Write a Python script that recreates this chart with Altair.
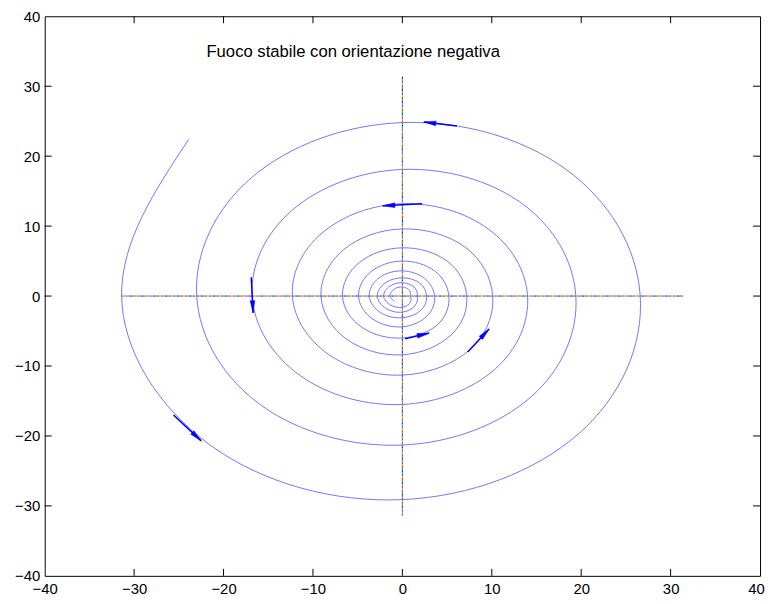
import math
import altair as alt
import pandas as pd

# ---- data ----
spiral_x = [-23.9, -31.4, -21.4, 0.0, 19.7, 26.6, 18.2, 0.0, -16.9,
            -23.0, -15.7, 0.0, 14.4, 19.4, 13.3, 0.0, -12.3,
            -16.8, -11.4, 0.0, 10.4, 14.0, 9.6, 0.0, -9.0,
            -12.3, -8.3, 0.0, 7.6, 10.1, 7.0, 0.0, -6.6,
            -9.1, -6.2, 0.0, 5.5, 7.2, 5.0, 0.0, -4.8,
            -6.7, -4.5, 0.0, 4.0, 5.2, 3.6, 0.0, -3.5,
            -4.9, -3.3, 0.0, 2.8, 3.6, 2.5, 0.0, -2.6,
            -3.7, -2.4, 0.0, 2.05, 2.7, 1.9, 0.0, -1.9,
            -2.8, -1.8, 0.0, 1.4, 1.7, 1.3, 0.0, -1.4,
            -2.1, -1.3, 0.0, 0.9, 0.9, 0.8, 0.0, -0.95,
            -1.4, -0.9]
spiral_y = [22.4, 0.0, -21.4, -29.1, -19.7, 0.0, 18.2, 24.8, 16.9,
            0.0, -15.7, -21.3, -14.4, 0.0, 13.3, 18.1, 12.3,
            0.0, -11.4, -15.5, -10.4, 0.0, 9.6, 13.2, 9.0,
            0.0, -8.3, -11.3, -7.6, 0.0, 7.0, 9.6, 6.6,
            0.0, -6.2, -8.4, -5.5, 0.0, 5.0, 6.9, 4.8,
            0.0, -4.5, -6.0, -4.0, 0.0, 3.6, 5.0, 3.5,
            0.0, -3.3, -4.4, -2.8, 0.0, 2.5, 3.6, 2.6,
            0.0, -2.4, -3.1, -2.05, 0.0, 1.9, 2.6, 1.9,
            0.0, -1.8, -2.3, -1.4, 0.0, 1.3, 1.9, 1.4,
            0.0, -1.3, -1.6, -0.9, 0.0, 0.8, 1.3, 0.95,
            0.0, -0.7]

arrow_tail_x = [6.1, 2.2, -16.9, -25.6, 0.3, 7.3]
arrow_tail_y = [24.3, 13.2, 2.7, -17.0, -6.1, -8.0]
arrow_tip_x = [2.4, -2.2, -16.7, -22.5, 3.0, 9.7]
arrow_tip_y = [24.9, 12.9, -2.4, -20.7, -5.3, -4.7]

axis_line_half = 31.4
tick_values = [-30, -20, -10, 0, 10, 20, 30]
label_values = [-40, -30, -20, -10, 0, 10, 20, 30, 40]
dash_colors = ["#ff0000", "#00b000", "#0000ff", "#00b0b0", "#c000c0", "#b0b000"]
title_text = "Fuoco stabile con orientazione negativa"

W, H = 721, 564
FONT = "Liberation Sans"

xs = alt.Scale(domain=[-40, 40], nice=False, zero=False)
ys = alt.Scale(domain=[-40, 40], nice=False, zero=False)
x_axis = alt.Axis(values=label_values, tickSize=0, labelPadding=6, domain=False,
                  grid=False, title=None, labelFontSize=15, labelFont=FONT,
                  labelColor="black", labelFlush=False,
                  labelOffset={"condition": {"test": "datum.value == 40", "value": -4},
                               "value": 0})
y_axis = alt.Axis(values=label_values, tickSize=0, labelPadding=5, domain=False,
                  grid=False, title=None, labelFontSize=15, labelFont=FONT,
                  labelColor="black", labelFlush=False)

spiral_df = pd.DataFrame({"x": spiral_x, "y": spiral_y, "i": range(len(spiral_x))})
spiral = alt.Chart(spiral_df).mark_line(
    color="#7474ff", strokeWidth=1, interpolate="natural"
).encode(
    x=alt.X("x:Q", scale=xs, axis=x_axis),
    y=alt.Y("y:Q", scale=ys, axis=y_axis),
    order="i:Q",
)

axes_df = pd.DataFrame({
    "x": [-axis_line_half, 0.0], "x2": [axis_line_half, 0.0],
    "y": [0.0, -axis_line_half], "y2": [0.0, axis_line_half],
})
dash_layers = []
for k, c in enumerate(dash_colors):
    dash_layers.append(
        alt.Chart(axes_df).mark_rule(color=c, strokeWidth=1, strokeDash=[2, 10],
                                     strokeDashOffset=2 * k).encode(
            x=alt.X("x:Q", scale=xs), x2="x2:Q",
            y=alt.Y("y:Q", scale=ys), y2="y2:Q",
        )
    )

# arrows
px_x = W / 80.0
px_y = H / 80.0
angles = []
for tx, ty, hx, hy in zip(arrow_tail_x, arrow_tail_y, arrow_tip_x, arrow_tip_y):
    dx = (hx - tx) * px_x
    dy = (hy - ty) * px_y
    angles.append(math.degrees(math.atan2(dx, dy)) % 360)
arrow_df = pd.DataFrame({"tx": arrow_tail_x, "ty": arrow_tail_y,
                         "hx": arrow_tip_x, "hy": arrow_tip_y, "ang": angles})
shafts = alt.Chart(arrow_df).mark_rule(color="#0000ff", strokeWidth=1.5).encode(
    x=alt.X("tx:Q", scale=xs), y=alt.Y("ty:Q", scale=ys), x2="hx:Q", y2="hy:Q"
)
heads = alt.Chart(arrow_df).mark_point(
    shape="M0,0L0.38,2L-0.38,2Z", filled=True, fill="#0000ff", stroke="#0000ff",
    strokeWidth=0.5, size=150, opacity=1
).encode(
    x=alt.X("hx:Q", scale=xs), y=alt.Y("hy:Q", scale=ys),
    angle=alt.Angle("ang:Q", scale=None),
)

# inward ticks on all four sides
tick_df = pd.DataFrame({"v": tick_values})
TL = 7
t_bottom = alt.Chart(tick_df).mark_rule(color="black").encode(
    x=alt.X("v:Q", scale=xs), y=alt.value(H), y2=alt.value(H - TL))
t_top = alt.Chart(tick_df).mark_rule(color="black").encode(
    x=alt.X("v:Q", scale=xs), y=alt.value(0), y2=alt.value(TL))
t_left = alt.Chart(tick_df).mark_rule(color="black").encode(
    y=alt.Y("v:Q", scale=ys), x=alt.value(0), x2=alt.value(TL))
t_right = alt.Chart(tick_df).mark_rule(color="black").encode(
    y=alt.Y("v:Q", scale=ys), x=alt.value(W), x2=alt.value(W - TL))

title_df = pd.DataFrame({"t": [title_text]})
title = alt.Chart(title_df).mark_text(
    align="left", baseline="middle", fontSize=16.8, font=FONT, color="black"
).encode(text="t:N", x=alt.value(163), y=alt.value(36))

chart = alt.layer(
    *dash_layers, spiral, shafts, heads, t_bottom, t_top, t_left, t_right, title
).properties(
    width=W, height=H,
    padding={"left": 37, "top": 6, "right": 5, "bottom": 20},
    autosize=alt.AutoSizeParams(type="none"),
).configure_view(
    stroke="black", strokeWidth=1
).configure_axis(grid=False)

chart.save("out.html", embed_options={"renderer": "svg", "actions": False})
